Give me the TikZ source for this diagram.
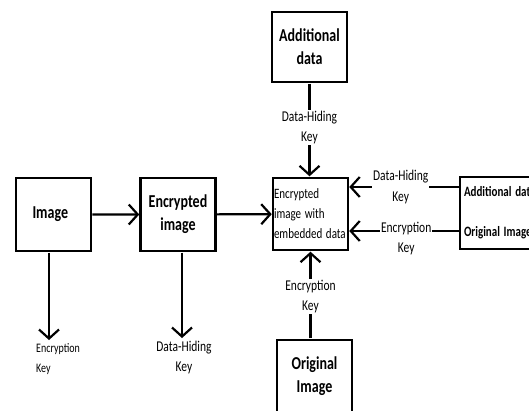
\documentclass[tikz,border=0pt]{standalone}
\usepackage{fontspec}
\setmainfont{Carlito}
\usetikzlibrary{arrows.meta,positioning}
\tikzset{
  tall/.style={yscale=1.3, transform shape},
  blk/.style={draw, line width=2.5pt, minimum width=75pt, minimum height=56pt, inner sep=1pt, align=center, tall, font=\bfseries\fontsize{14}{17.7}\selectfont},
  flow/.style={line width=2.2pt, -{Straight Barb[length=9pt,width=20pt,line width=2.2pt]}},
  keylbl/.style={fill=white, inner sep=1pt, align=center, tall, font=\fontsize{11.5}{15.4}\selectfont},
}
\begin{document}
\begin{tikzpicture}[x=1pt,y=-1pt]
  \useasboundingbox (0,0) rectangle (529,410);
  \clip (0,0) rectangle (529,410);
  % boxes
  \node[blk, text width=62pt, align=left] (img) at (53.5,214.5) {\hspace*{10pt}Image};
  \node[blk] (enc) at (178,214.5) {Encrypted\\image};
  \node[blk, minimum height=55.5pt, text width=73pt, align=left, font=\fontsize{11}{15.4}\selectfont] (emb) at (310.5,214) {Encrypted\\image with\\embedded data};
  \node[blk, minimum height=54pt] (add) at (309.5,47) {Additional\\data};
  \node[blk, minimum width=92pt, minimum height=55.5pt, text width=84pt, align=left, font=\bfseries\fontsize{11}{30.8}\selectfont] (side) at (506,213) {Additional data\\Original Image};
  \node[blk, minimum height=55.5pt] (orig) at (314.5,376) {Original\\Image};
  % flow between boxes
  \draw[flow] (img) -- (enc);
  \draw[flow] (enc) -- (emb);
  \draw[flow] (add.south) -- (emb.north -| add.south) node[keylbl, pos=0.47] {Data-Hiding\\Key};
  \draw[flow] (orig.north -| emb.south) -- (emb.south) node[keylbl, pos=0.48] {Encryption\\Key};
  \coordinate (k1) at (0,187);
  \coordinate (k2) at (0,231);
  \draw[flow] (side.west |- k1) -- (emb.east |- k1) node[keylbl, pos=0.53] {Data-Hiding\\Key};
  \draw[flow] (side.west |- k2) -- (emb.east |- k2) node[keylbl, pos=0.48, anchor=north, yshift=9pt] {Encryption\\Key};
  % keys coming out
  \coordinate (ekt) at (49,340);
  \coordinate (dkt) at (182,338);
  \draw[flow] (img.south -| ekt) -- (ekt);
  \draw[flow] (enc.south -| dkt) -- (dkt);
  \node[keylbl, anchor=north west, align=left, font=\fontsize{10}{15.4}\selectfont] (ek) at (35,342) {Encryption\\Key};
  \node[keylbl, anchor=north, align=center] (dk) at (184,340) {Data-Hiding\\Key};
\end{tikzpicture}
\end{document}
